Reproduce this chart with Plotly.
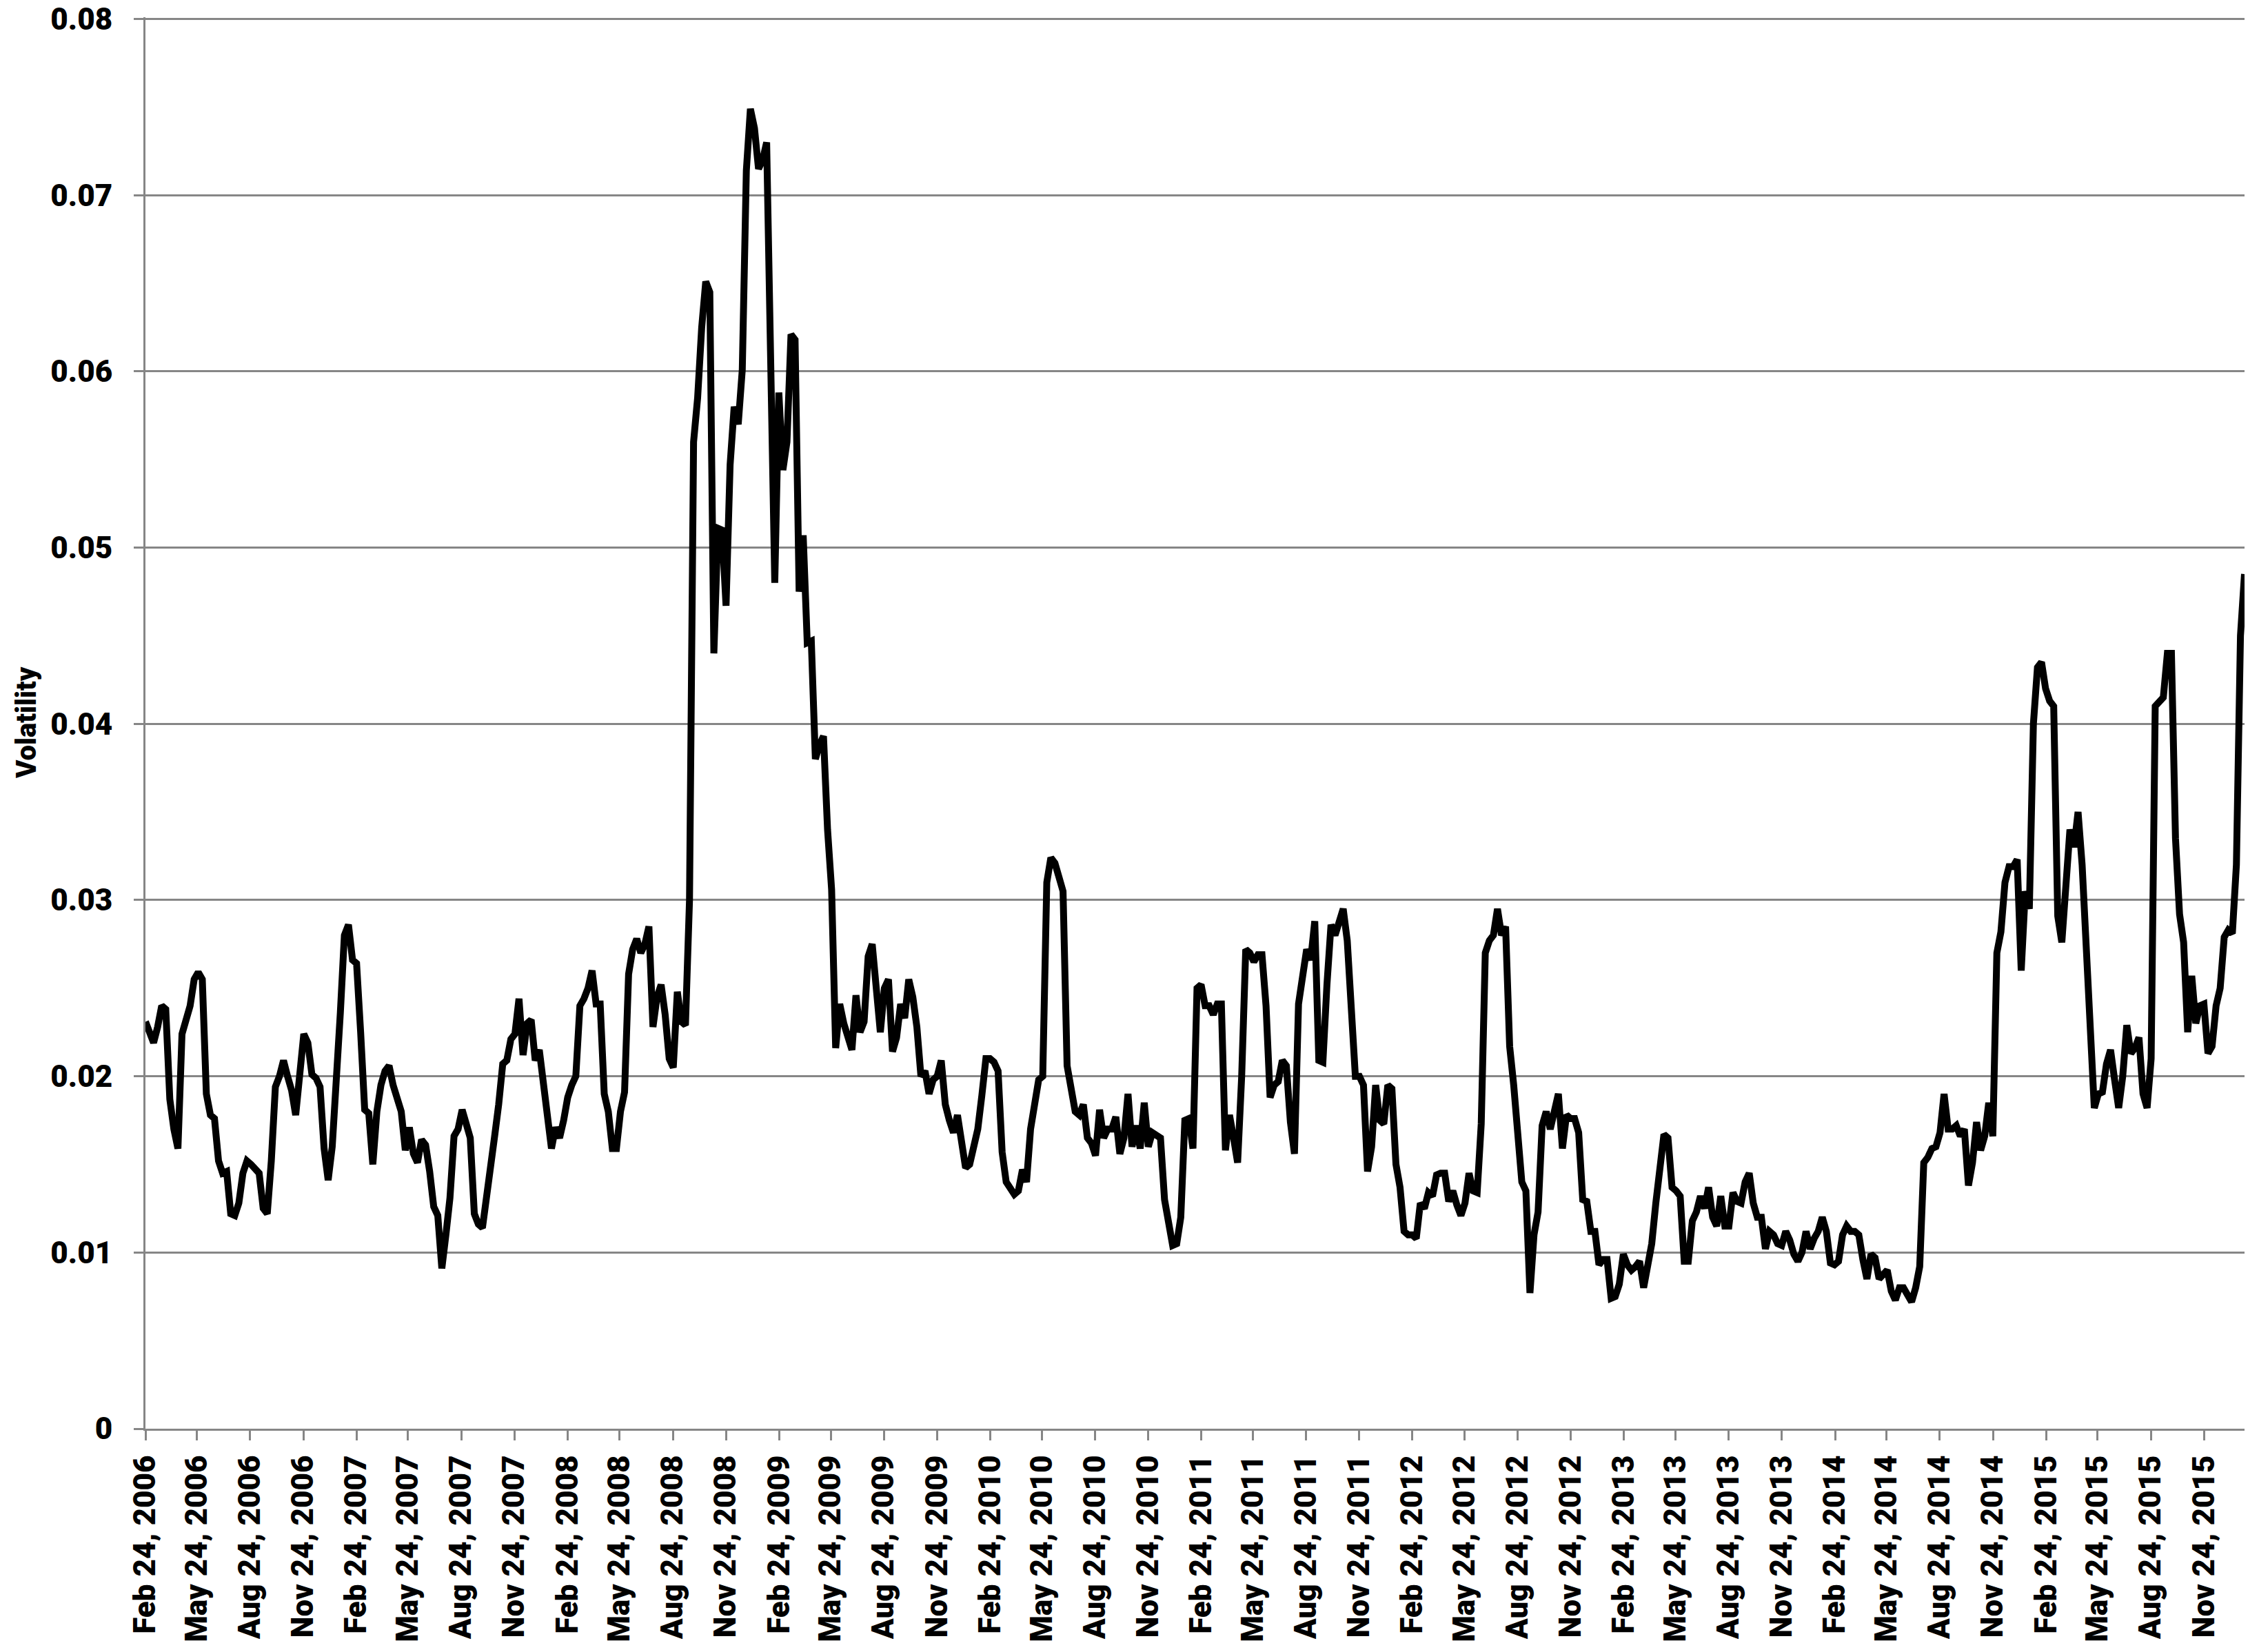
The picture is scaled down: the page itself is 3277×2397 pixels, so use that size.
import pandas as pd
import plotly.graph_objects as go

# Weekly volatility readings, grouped by year (13 per quarter, starting Feb 24, 2006)
vol_2006 = [0.0231,0.0226,0.0219,0.0228,0.0240,0.0238,0.0187,0.0170,0.0159,0.0224,0.0234,0.0240,0.0255,
            0.0259,0.0255,0.0190,0.0178,0.0176,0.0152,0.0145,0.0146,0.0122,0.0121,0.0128,0.0145,0.0152,
            0.0150,0.0148,0.0145,0.0125,0.0122,0.0152,0.0194,0.0200,0.0209,0.0200,0.0192,0.0178,0.0200,
            0.0224,0.0219,0.0201,0.0199,0.0194,0.0159,0.0141,0.0160,0.0195,0.0236,0.0280,0.0286,0.0266]
vol_2007 = [0.0264,0.0225,0.0181,0.0179,0.0150,0.0180,0.0195,0.0203,0.0206,0.0195,0.0187,0.0180,0.0158,
            0.0171,0.0156,0.0151,0.0164,0.0161,0.0146,0.0126,0.0121,0.0091,0.0110,0.0131,0.0166,0.0170,
            0.0181,0.0172,0.0165,0.0122,0.0116,0.0114,0.0134,0.0146,0.0166,0.0184,0.0207,0.0209,0.0221,
            0.0224,0.0244,0.0212,0.0230,0.0232,0.0209,0.0215,0.0194,0.0175,0.0159,0.0171,0.0165,0.0175]
vol_2008 = [0.0188,0.0195,0.0200,0.0240,0.0244,0.0250,0.0260,0.0241,0.0241,0.0190,0.0180,0.0159,0.0159,
            0.0180,0.0191,0.0258,0.0272,0.0278,0.0270,0.0275,0.0285,0.0228,0.0245,0.0252,0.0235,0.0210,
            0.0205,0.0248,0.0231,0.0229,0.0300,0.0560,0.0585,0.0625,0.0651,0.0645,0.0440,0.0511,0.0510,
            0.0467,0.0547,0.0580,0.0570,0.0601,0.0714,0.0749,0.0738,0.0715,0.0720,0.0730,0.0600,0.0480]
vol_2009 = [0.0588,0.0544,0.0560,0.0621,0.0618,0.0475,0.0507,0.0446,0.0447,0.0380,0.0388,0.0393,0.0340,
            0.0306,0.0216,0.0241,0.0230,0.0222,0.0215,0.0246,0.0225,0.0231,0.0268,0.0275,0.0245,0.0225,
            0.0250,0.0255,0.0214,0.0222,0.0241,0.0233,0.0255,0.0245,0.0228,0.0200,0.0203,0.0190,0.0198,
            0.0200,0.0209,0.0184,0.0175,0.0168,0.0178,0.0160,0.0148,0.0150,0.0160,0.0170,0.0189,0.0210]
vol_2010 = [0.0210,0.0208,0.0203,0.0157,0.0140,0.0136,0.0133,0.0135,0.0147,0.0140,0.0170,0.0184,0.0198,
            0.0200,0.0310,0.0324,0.0321,0.0313,0.0305,0.0206,0.0195,0.0180,0.0178,0.0184,0.0165,0.0162,
            0.0155,0.0181,0.0165,0.0170,0.0170,0.0177,0.0156,0.0165,0.0190,0.0160,0.0172,0.0159,0.0185,
            0.0160,0.0168,0.0167,0.0165,0.0130,0.0118,0.0104,0.0105,0.0120,0.0175,0.0176,0.0159,0.0250]
vol_2011 = [0.0252,0.0240,0.0240,0.0235,0.0241,0.0241,0.0158,0.0178,0.0165,0.0151,0.0200,0.0272,0.0270,
            0.0265,0.0269,0.0269,0.0240,0.0188,0.0195,0.0197,0.0209,0.0206,0.0174,0.0156,0.0241,0.0258,
            0.0272,0.0266,0.0288,0.0209,0.0208,0.0252,0.0286,0.0280,0.0287,0.0295,0.0277,0.0235,0.0200,
            0.0200,0.0195,0.0146,0.0160,0.0195,0.0175,0.0173,0.0195,0.0193,0.0150,0.0137,0.0112,0.0110]
vol_2012 = [0.0110,0.0108,0.0128,0.0125,0.0134,0.0132,0.0144,0.0145,0.0145,0.0129,0.0135,0.0127,0.0121,
            0.0128,0.0145,0.0135,0.0134,0.0173,0.0270,0.0277,0.0280,0.0295,0.0280,0.0285,0.0217,0.0195,
            0.0167,0.0140,0.0135,0.0077,0.0110,0.0123,0.0172,0.0180,0.0170,0.0181,0.0190,0.0159,0.0178,
            0.0176,0.0176,0.0168,0.0130,0.0129,0.0112,0.0112,0.0093,0.0096,0.0096,0.0074,0.0075,0.0082]
vol_2013 = [0.0099,0.0093,0.0090,0.0092,0.0095,0.0080,0.0095,0.0105,0.0128,0.0150,0.0167,0.0165,0.0137,
            0.0135,0.0132,0.0095,0.0095,0.0118,0.0123,0.0132,0.0125,0.0137,0.0120,0.0115,0.0132,0.0115,
            0.0115,0.0134,0.0129,0.0128,0.0140,0.0145,0.0128,0.0120,0.0120,0.0102,0.0112,0.0110,0.0105,
            0.0104,0.0112,0.0107,0.0099,0.0095,0.0100,0.0112,0.0102,0.0108,0.0112,0.0120,0.0112,0.0094]
vol_2014 = [0.0093,0.0095,0.0110,0.0115,0.0112,0.0112,0.0110,0.0096,0.0085,0.0099,0.0097,0.0085,0.0088,
            0.0090,0.0078,0.0073,0.0080,0.0080,0.0076,0.0072,0.0080,0.0092,0.0151,0.0154,0.0159,0.0160,
            0.0168,0.0190,0.0170,0.0170,0.0172,0.0166,0.0170,0.0138,0.0151,0.0174,0.0158,0.0166,0.0185,
            0.0166,0.0270,0.0282,0.0310,0.0319,0.0319,0.0323,0.0260,0.0305,0.0295,0.0400,0.0432,0.0435]
vol_2015 = [0.0420,0.0413,0.0410,0.0291,0.0276,0.0305,0.0340,0.0330,0.0350,0.0320,0.0273,0.0240,0.0182,
            0.0190,0.0191,0.0207,0.0215,0.0198,0.0182,0.0200,0.0229,0.0213,0.0216,0.0222,0.0190,0.0182,
            0.0210,0.0410,0.0413,0.0415,0.0440,0.0440,0.0335,0.0292,0.0276,0.0225,0.0257,0.0230,0.0240,
            0.0241,0.0213,0.0217,0.0240,0.0250,0.0279,0.0283,0.0281,0.0320,0.0450,0.0485]

start_date = "2006-02-24"
end_date = "2016-02-02"

tick_months = ["Feb", "May", "Aug", "Nov"]
tick_years = list(range(2006, 2016))
tick_labels = [f"{m} 24, {y}" for y in tick_years for m in tick_months]
tick_dates = [pd.Timestamp(f"{m} 24 {y}") for y in tick_years for m in tick_months]

y_ticks = [0, 0.01, 0.02, 0.03, 0.04, 0.05, 0.06, 0.07, 0.08]
y_tick_labels = ["0", "0.01", "0.02", "0.03", "0.04", "0.05", "0.06", "0.07", "0.08"]

values = (vol_2006 + vol_2007 + vol_2008 + vol_2009 + vol_2010 +
          vol_2011 + vol_2012 + vol_2013 + vol_2014 + vol_2015)
dates = pd.date_range(start_date, end_date, periods=len(values))

GRID = "#868686"
FAMILY = "Roboto, 'Open Sans', sans-serif"
FONT = dict(family=FAMILY, size=44, color="black", weight=900)

fig = go.Figure()
fig.add_trace(go.Scatter(x=dates, y=values, mode="lines",
                         line=dict(color="#000000", width=10), showlegend=False))

# The page body keeps its default 8px margin, so the figure is sized to fit inside the window.
fig.update_layout(
    width=3269, height=2389,
    margin=dict(l=203, r=21, t=17, b=324, autoexpand=False),
    paper_bgcolor="white", plot_bgcolor="white",
    xaxis=dict(type="date", range=[dates[0], dates[-1]],
               tickmode="array", tickvals=tick_dates, ticktext=tick_labels,
               tickangle=-90, ticks="outside", ticklen=14, tickwidth=3, tickcolor=GRID,
               showline=True, linecolor=GRID, linewidth=3, showgrid=False, zeroline=False,
               tickfont=FONT, ticklabelstandoff=4, ticklabeloverflow="allow", automargin=False),
    yaxis=dict(range=[0, 0.0801], tickmode="array", tickvals=y_ticks, ticktext=y_tick_labels,
               ticks="outside", ticklen=14, tickwidth=3, tickcolor=GRID,
               showline=True, linecolor=GRID, linewidth=3,
               showgrid=True, gridcolor=GRID, gridwidth=3, zeroline=False,
               tickfont=FONT, ticklabelstandoff=22, ticklabeloverflow="allow", automargin=False),
    annotations=[dict(text="Volatility", xref="paper", yref="paper",
                      x=-0.0568, y=0.5, xanchor="center", yanchor="middle",
                      textangle=-90, showarrow=False,
                      font=dict(family=FAMILY, size=40, color="black", weight=900))],
)

fig.write_html("out.html")
